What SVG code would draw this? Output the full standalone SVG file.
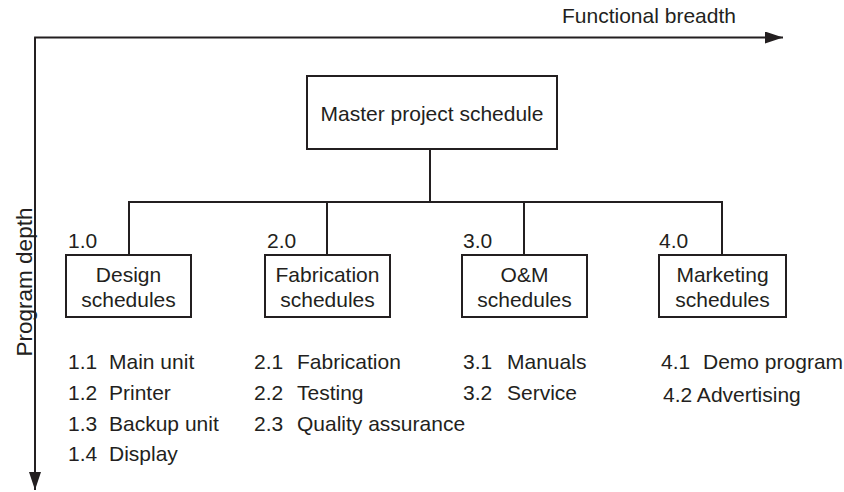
<svg xmlns="http://www.w3.org/2000/svg" width="844" height="492" viewBox="0 0 844 492">
  <style>
    text { font-family: "Liberation Sans", Arial, sans-serif; font-size: 21px; fill: #231f20; }
    .mid { text-anchor: middle; }
    .box { fill: #fff; stroke: #231f20; stroke-width: 2; }
    .line { fill: none; stroke: #231f20; stroke-width: 2; }
    .axis { fill: none; stroke: #231f20; stroke-width: 1.8; }
  </style>
  <defs>
    <marker id="arrow" markerUnits="userSpaceOnUse" markerWidth="20" markerHeight="12" refX="18" refY="6" orient="auto">
      <path d="M0,0 L18,6 L0,12 Z" fill="#231f20"/>
    </marker>
  </defs>
  <rect width="844" height="492" fill="#fff"/>

  <!-- axes -->
  <g id="axes">
    <path class="axis" d="M35,490 L35,37.5 L783,37.5" marker-end="url(#arrow)"/>
    <path class="axis" d="M35,37.5 L35,490" marker-end="url(#arrow)"/>
    <text x="562" y="23">Functional breadth</text>
    <text class="mid" style="font-size:22.5px" transform="translate(32,282) rotate(-90)">Program depth</text>
  </g>

  <!-- connectors -->
  <g id="connectors">
    <path class="line" d="M430,149 V202"/>
    <path class="line" d="M129,255 V202 H722 V255"/>
    <path class="line" d="M327,202 V255"/>
    <path class="line" d="M524,202 V255"/>
  </g>

  <g id="master">
    <rect class="box" x="307" y="76" width="250" height="73"/>
    <text class="mid" x="432" y="121">Master project schedule</text>
  </g>

  <g id="design">
    <text x="68" y="248">1.0</text>
    <rect class="box" x="66" y="255" width="125" height="62"/>
    <text class="mid" x="128.5" y="282">Design</text>
    <text class="mid" x="128.5" y="307">schedules</text>
  </g>

  <g id="fabrication">
    <text x="267" y="248">2.0</text>
    <rect class="box" x="265" y="255" width="125" height="62"/>
    <text class="mid" x="327.5" y="282">Fabrication</text>
    <text class="mid" x="327.5" y="307">schedules</text>
  </g>

  <g id="om">
    <text x="463" y="248">3.0</text>
    <rect class="box" x="462" y="255" width="125" height="62"/>
    <text class="mid" x="524.5" y="282">O&amp;M</text>
    <text class="mid" x="524.5" y="307">schedules</text>
  </g>

  <g id="marketing">
    <text x="659" y="248">4.0</text>
    <rect class="box" x="659" y="255" width="127" height="62"/>
    <text class="mid" x="722.5" y="282">Marketing</text>
    <text class="mid" x="722.5" y="307">schedules</text>
  </g>

  <!-- sub-schedule lists -->
  <g id="design-items">
    <text x="68" y="369">1.1</text><text x="109" y="369">Main unit</text>
    <text x="68" y="400">1.2</text><text x="109" y="400">Printer</text>
    <text x="68" y="431">1.3</text><text x="109" y="431">Backup unit</text>
    <text x="68" y="461">1.4</text><text x="109" y="461">Display</text>
  </g>
  <g id="fabrication-items">
    <text x="254" y="369">2.1</text><text x="297" y="369">Fabrication</text>
    <text x="254" y="400">2.2</text><text x="297" y="400">Testing</text>
    <text x="254" y="431">2.3</text><text x="297" y="431">Quality assurance</text>
  </g>
  <g id="om-items">
    <text x="463" y="369">3.1</text><text x="507" y="369">Manuals</text>
    <text x="463" y="400">3.2</text><text x="507" y="400">Service</text>
  </g>
  <g id="marketing-items">
    <text x="661" y="369">4.1</text><text x="703" y="369">Demo program</text>
    <text x="663" y="402">4.2 Advertising</text>
  </g>
</svg>
